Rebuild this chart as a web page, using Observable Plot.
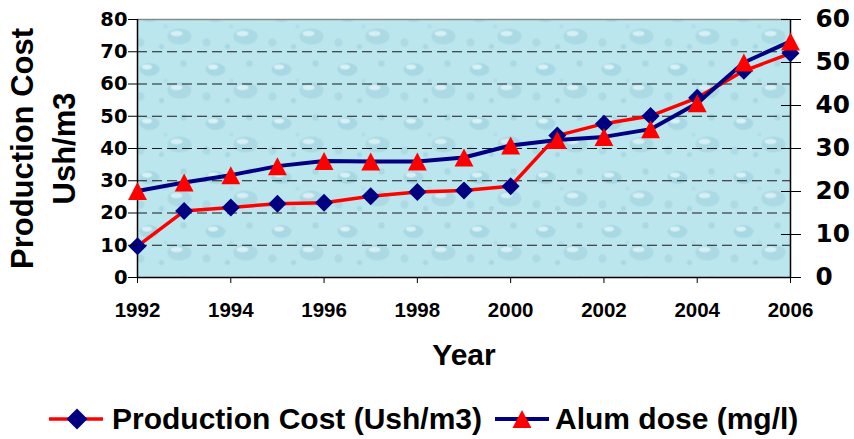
<!DOCTYPE html>
<html>
<head>
<meta charset="utf-8">
<script src="https://cdn.jsdelivr.net/npm/d3@7"></script>
<script src="https://cdn.jsdelivr.net/npm/@observablehq/plot@0.6"></script>
<style>
  html, body { margin: 0; padding: 0; background: #fff; }
  #wrap { position: relative; width: 854px; height: 439px; overflow: hidden; background: #fff; }
  #chart { position: absolute; left: 0; top: 0; }
  #legend { position: absolute; left: 49px; top: 401px; height: 36px; display: flex; align-items: center;
            font: bold 30px "Liberation Sans", Arial, sans-serif; color: #000; white-space: nowrap; }
  #legend svg { display: block; }
</style>
</head>
<body>
<div id="wrap">
  <div id="chart"></div>
  <div id="legend">
    <svg width="54" height="36"><line x1="0" x2="54" y1="18" y2="18" stroke="#ff0000" stroke-width="3.5"/><path d="M28,7.5L38.5,18L28,28.5L17.5,18Z" fill="#000080"/></svg>
    <span style="margin-left:9px">Production Cost (Ush/m3)</span>
    <svg width="54" height="36" style="margin-left:13px"><line x1="0" x2="54" y1="18" y2="18" stroke="#000080" stroke-width="4"/><path d="M27,9L36.5,27L17.5,27Z" fill="#ff0000"/></svg>
    <span style="margin-left:6px">Alum dose (mg/l)</span>
  </div>
</div>
<script>
// ---- data ----
const years = [1992, 1993, 1994, 1995, 1996, 1997, 1998, 1999, 2000, 2001, 2002, 2003, 2004, 2005, 2006];
const productionCost = [9.7, 20.6, 21.7, 22.9, 23.2, 25.2, 26.5, 27.0, 28.3, 44.0, 47.7, 50.1, 55.7, 64.1, 69.5]; // Ush/m3, left axis
const alumDose = [20.1, 22.1, 23.8, 25.9, 27.1, 27.0, 27.0, 27.9, 30.7, 32.0, 32.7, 34.5, 40.5, 50.0, 54.9];      // mg/l, right axis
const xTicks = [1992, 1994, 1996, 1998, 2000, 2002, 2004, 2006];
const leftTicks = [0, 10, 20, 30, 40, 50, 60, 70, 80];
const rightTicks = [0, 10, 20, 30, 40, 50, 60];
const gridValues = [10, 20, 30, 40, 50, 60, 70];
const yTitle = "Production Cost\nUsh/m3";
const xTitle = "Year";

const leftMax = 80, rightMax = 60;
const k = leftMax / rightMax;
const data = years.map((year, i) => ({year, cost: productionCost[i], alum: alumDose[i]}));

const diamond = {draw(ctx, size) { const h = Math.sqrt(size) / 2; ctx.moveTo(0, -h); ctx.lineTo(h, 0); ctx.lineTo(0, h); ctx.lineTo(-h, 0); ctx.closePath(); }};
const triangle = {draw(ctx, size) { const h = Math.sqrt(size) / 2; ctx.moveTo(0, -h); ctx.lineTo(h * 1.05, h); ctx.lineTo(-h * 1.05, h); ctx.closePath(); }};
const rFor = (extent) => Math.sqrt(extent * extent / Math.PI);

const H = 380;
const bold = {fontWeight: "bold"};
const plot = Plot.plot({
  width: 854,
  height: H,
  marginLeft: 137,
  marginRight: 64,
  marginTop: 19,
  marginBottom: H - 277,
  style: {background: "transparent", overflow: "visible"},
  x: {domain: d3.extent(years)},
  y: {domain: [0, leftMax]},
  marks: [
    Plot.frame({fill: "#bce6ee", stroke: null}),
    Plot.ruleY(gridValues, {stroke: "#1a1a1a", strokeWidth: 1, strokeDasharray: "10,5"}),
    Plot.ruleY([leftMax], {stroke: "#8a8a8a", strokeWidth: 1.5}),
    Plot.ruleY([0], {stroke: "#000", strokeWidth: 1.5}),
    Plot.ruleX(d3.extent(years), {stroke: "#000", strokeWidth: 1.5}),
    Plot.line(data, {x: "year", y: "cost", stroke: "#ff0000", strokeWidth: 3.5}),
    Plot.dot(data, {x: "year", y: "cost", symbol: diamond, r: rFor(18), fill: "#000080", stroke: null}),
    Plot.line(data, {x: "year", y: d => d.alum * k, stroke: "#000080", strokeWidth: 4}),
    Plot.dot(data, {x: "year", y: d => d.alum * k, symbol: triangle, r: rFor(18), fill: "#ff0000", stroke: null}),
    Plot.axisX(xTicks, {tickSize: 6, tickPadding: 19, tickFormat: d => String(d), label: null,
      fontSize: 20.5, fontFamily: "Liberation Sans, Arial, sans-serif", ...bold}),
    Plot.axisY(leftTicks, {anchor: "left", tickSize: 9, tickPadding: 1, label: null,
      fontSize: 19.5, fontFamily: "DejaVu Sans, sans-serif", ...bold}),
    Plot.axisY(rightTicks.map(d => d * k), {anchor: "right", tickSize: 10, tickPadding: 15, label: null,
      tickFormat: d => String(Math.round(d / k)),
      fontSize: 24.7, fontFamily: "DejaVu Sans, sans-serif", ...bold}),
    Plot.axisY(rightTicks.map(d => d * k), {anchor: "right", tickSize: 10, dx: -10, label: null, tickFormat: () => ""}),
    Plot.text([yTitle], {text: d => d, frameAnchor: "left", rotate: -90, dx: -134, lineAnchor: "top",
      lineHeight: 1.355, textAnchor: "middle", fontSize: 31, fontFamily: "Liberation Sans, Arial, sans-serif", ...bold, fill: "#000"}),
    Plot.text([xTitle], {text: d => d, frameAnchor: "bottom", dy: 66, lineAnchor: "top",
      textAnchor: "middle", fontSize: 30, fontFamily: "Liberation Sans, Arial, sans-serif", ...bold, fill: "#000"})
  ]
});

// decorative water-droplet texture for the plot background
const ns = "http://www.w3.org/2000/svg";
const defs = document.createElementNS(ns, "defs");
defs.innerHTML = `
<pattern id="drops" width="66" height="54" patternUnits="userSpaceOnUse">
  <rect width="66" height="54" fill="#bce6ee"/>
  <ellipse cx="17" cy="15" rx="10" ry="6.5" fill="#a8d8e3"/>
  <ellipse cx="14.5" cy="12.5" rx="5" ry="2.4" fill="#d8f1f6"/>
  <ellipse cx="47" cy="36" rx="12" ry="8" fill="#abdae4"/>
  <ellipse cx="44" cy="33" rx="6" ry="2.8" fill="#d5eff5"/>
  <circle cx="51" cy="9" r="3.2" fill="#aad9e4"/>
  <circle cx="8" cy="42" r="4.2" fill="#addbe5"/>
  <circle cx="29" cy="46" r="2.6" fill="#a8d8e3"/>
  <circle cx="33" cy="26" r="2" fill="#b0dde7"/>
</pattern>`;
plot.insertBefore(defs, plot.firstChild);
const frameG = plot.querySelector('[aria-label="frame"]');
if (frameG) {
  frameG.setAttribute("fill", "url(#drops)");
  frameG.querySelectorAll("rect").forEach(r => r.setAttribute("fill", "url(#drops)"));
}
document.getElementById("chart").appendChild(plot);
</script>
</body>
</html>
